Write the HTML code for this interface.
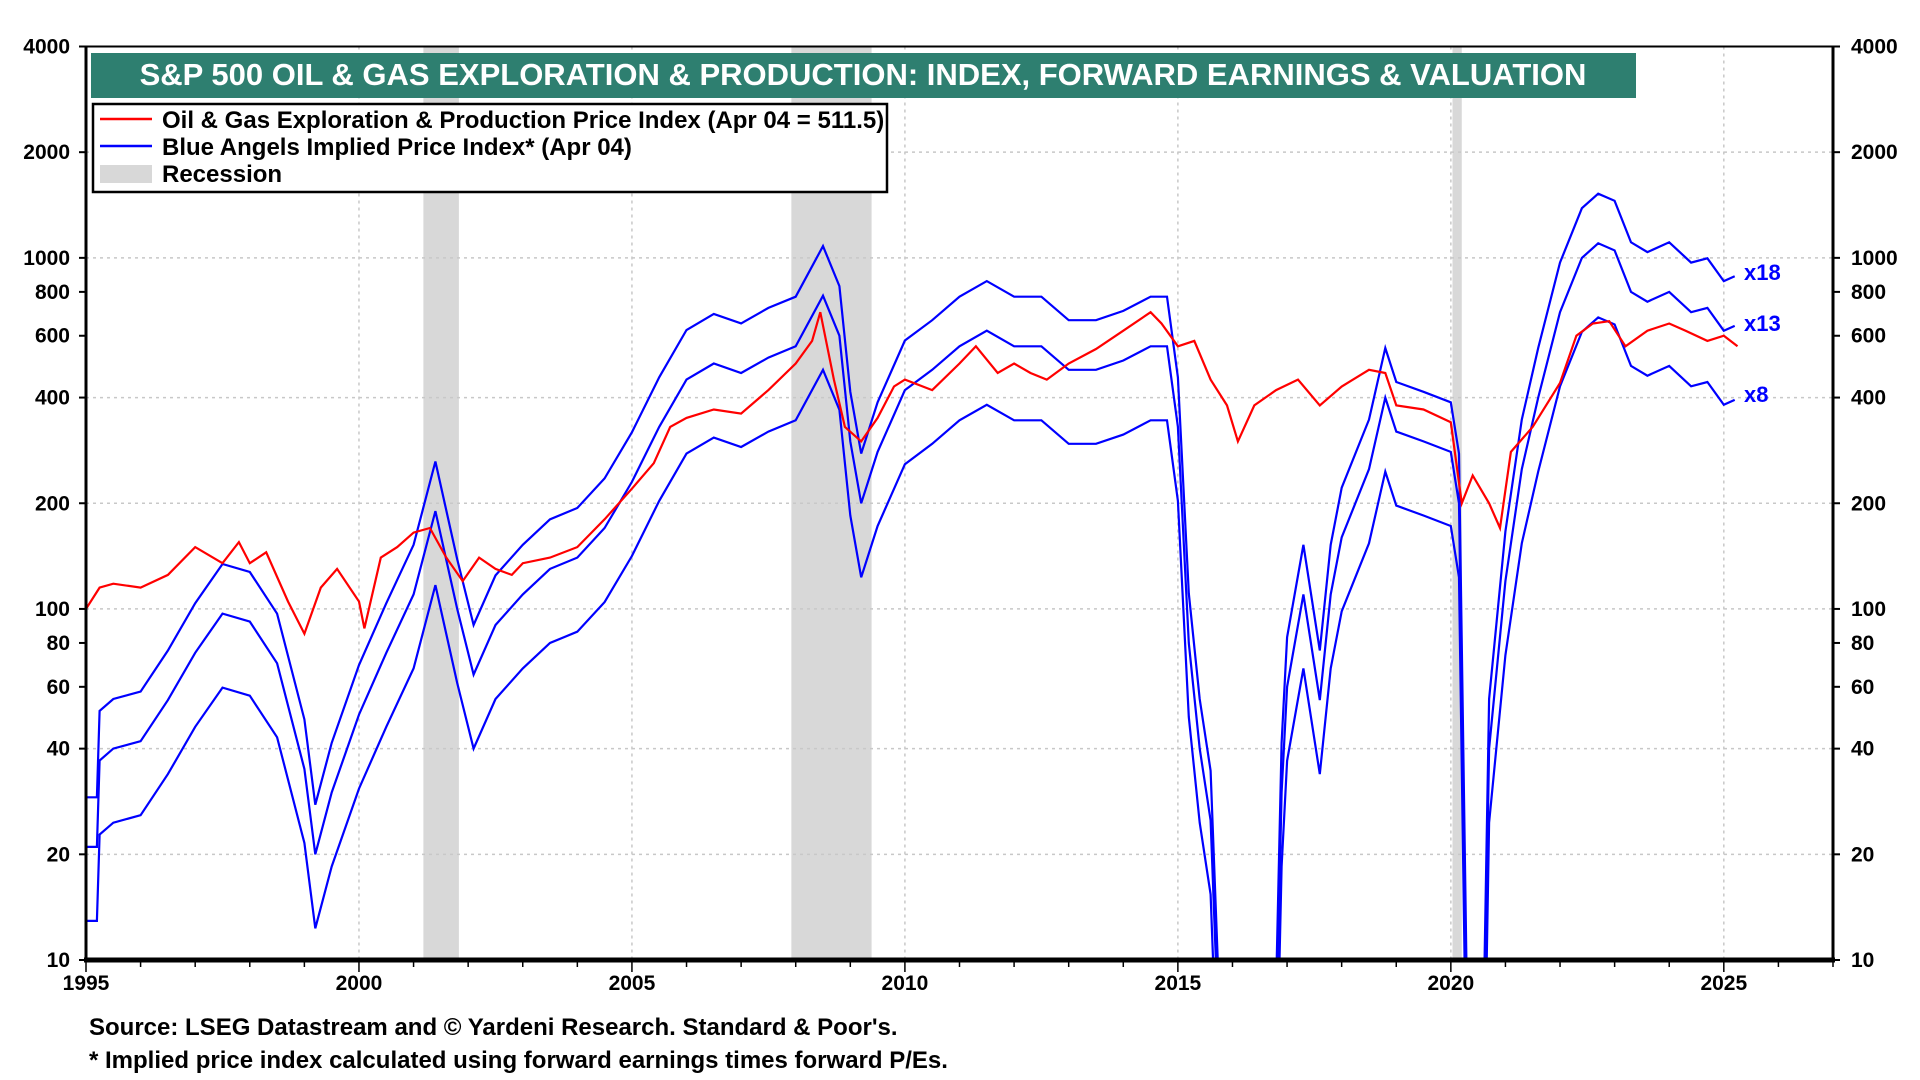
<!DOCTYPE html>
<html><head><meta charset="utf-8">
<style>
html,body{margin:0;background:#fff;width:1920px;height:1080px;overflow:hidden;}
svg{display:block;font-family:"Liberation Sans",Arial,sans-serif;font-weight:bold;}
</style></head>
<body>
<svg id="chart" width="1920" height="1080" viewBox="0 0 1920 1080" xmlns="http://www.w3.org/2000/svg">
<g id="rec"></g>
<g id="grid"></g>
<g id="series"></g>
<g id="axes"></g>
<rect x="91" y="53" width="1545" height="45" fill="#2e7f70"/>
<text x="863" y="85" fill="#fff" font-size="31" text-anchor="middle">S&amp;P 500 OIL &amp; GAS EXPLORATION &amp; PRODUCTION: INDEX, FORWARD EARNINGS &amp; VALUATION</text>
<g>
<rect x="93" y="104" width="794" height="88" fill="#fff" stroke="#000" stroke-width="2.5"/>
<line x1="100" y1="119" x2="152" y2="119" stroke="#f00" stroke-width="2.5"/>
<text x="162" y="128" font-size="24">Oil &amp; Gas Exploration &amp; Production Price Index (Apr 04 = 511.5)</text>
<line x1="100" y1="146" x2="152" y2="146" stroke="#00f" stroke-width="2.5"/>
<text x="162" y="155" font-size="24">Blue Angels Implied Price Index* (Apr 04)</text>
<rect x="100" y="165" width="52" height="18" fill="#d8d8d8"/>
<text x="162" y="182" font-size="24">Recession</text>
</g>
<text x="1744" y="280" fill="#00f" font-size="22">x18</text>
<text x="1744" y="331" fill="#00f" font-size="22">x13</text>
<text x="1744" y="402" fill="#00f" font-size="22">x8</text>
<text x="89" y="1035" font-size="24">Source: LSEG Datastream and © Yardeni Research. Standard &amp; Poor's.</text>
<text x="89" y="1068" font-size="24">* Implied price index calculated using forward earnings times forward P/Es.</text>
</svg>
<script>
const yTicks=[10,20,40,60,80,100,200,400,600,800,1000,2000,4000];
const xTicks=[1995,2000,2005,2010,2015,2020,2025];
const recessions=[[2001.18,2001.83],[2007.92,2009.39],[2020.03,2020.2]];
const multiples=[8,13,18];
const bDates=[1995.0,1995.2,1995.25,1995.5,1996.0,1996.5,1997.0,1997.5,1998.0,1998.5,1999.0,1999.2,1999.5,2000.0,2000.5,2001.0,2001.4,2001.8,2002.1,2002.5,2003.0,2003.5,2004.0,2004.5,2005.0,2005.5,2006.0,2006.5,2007.0,2007.5,2008.0,2008.5,2008.8,2009.0,2009.2,2009.5,2010.0,2010.5,2011.0,2011.5,2012.0,2012.5,2013.0,2013.5,2014.0,2014.5,2014.8,2015.0,2015.2,2015.4,2015.6,2015.75,2016.8,2016.9,2017.0,2017.3,2017.6,2017.8,2018.0,2018.5,2018.8,2019.0,2019.5,2020.0,2020.15,2020.3,2020.6,2020.7,2021.0,2021.3,2021.6,2022.0,2022.4,2022.7,2023.0,2023.3,2023.6,2024.0,2024.4,2024.7,2025.0,2025.2];
const implied13=[21,21,37,40,42,55,75,97,92,70,35,20,30,50,75,110,190,100,65,90,110,130,140,170,230,330,450,500,470,520,560,780,600,300,200,280,420,480,560,620,560,560,480,480,510,560,560,330,80,40,25,6,6,30,60,110,55,110,160,250,400,320,300,280,200,5,5,40,120,250,400,700,1000,1100,1050,800,750,800,700,720,620,640];
const rDates=[1995.0,1995.25,1995.5,1996,1996.5,1997,1997.5,1997.8,1998,1998.3,1998.7,1999,1999.3,1999.6,2000,2000.1,2000.4,2000.7,2001,2001.3,2001.6,2001.9,2002.2,2002.5,2002.8,2003,2003.5,2004,2004.5,2005,2005.4,2005.7,2006,2006.5,2007,2007.5,2008,2008.3,2008.45,2008.7,2008.9,2009.2,2009.5,2009.8,2010,2010.5,2011,2011.3,2011.7,2012,2012.3,2012.6,2013,2013.5,2014,2014.5,2014.7,2015,2015.3,2015.6,2015.9,2016.1,2016.4,2016.8,2017.2,2017.6,2018,2018.5,2018.8,2019,2019.5,2020,2020.2,2020.4,2020.7,2020.9,2021.1,2021.5,2022,2022.3,2022.6,2022.9,2023.2,2023.6,2024,2024.3,2024.7,2025,2025.25];
const priceIndex=[100,115,118,115,125,150,135,155,135,145,105,85,115,130,105,88,140,150,165,170,140,120,140,130,125,135,140,150,180,220,260,330,350,370,360,420,500,580,700,450,330,300,350,430,450,420,500,560,470,500,470,450,500,550,620,700,650,560,580,450,380,300,380,420,450,380,430,480,470,380,370,340,200,240,200,170,280,330,440,600,650,660,560,620,650,620,580,600,560];

const L=86,R=1833,T=46.5,B=960,X0=1995,X1=2027;
const xs=v=>L+(v-X0)/(X1-X0)*(R-L);
const ys=v=>B-(Math.log10(v)-1)/Math.log10(400)*(B-T);
const NS='http://www.w3.org/2000/svg';
function mk(tag,attrs,parent){const e=document.createElementNS(NS,tag);for(const k in attrs)e.setAttribute(k,attrs[k]);parent.appendChild(e);return e;}
const rec=document.getElementById('rec'),grid=document.getElementById('grid'),ser=document.getElementById('series'),ax=document.getElementById('axes');
recessions.forEach(r=>{const e=mk('rect',{x:xs(r[0]),y:T,width:xs(r[1])-xs(r[0]),height:B-T,fill:'#d8d8d8'},rec);

});
xTicks.slice(1).forEach(t=>{const e=mk('line',{x1:xs(t),x2:xs(t),y1:T,y2:B,stroke:'#c8c8c8','stroke-width':1.5,'stroke-dasharray':'3,4'},grid);

});
[20,40,100,200,400,1000,2000].forEach(t=>{const e=mk('line',{x1:L,x2:R,y1:ys(t),y2:ys(t),stroke:'#c8c8c8','stroke-width':1.5,'stroke-dasharray':'3,4'},grid);

});
const cp=mk('clipPath',{id:'cp'},document.getElementById('chart'));mk('rect',{x:L,y:T,width:R-L,height:B-T},cp);
ser.setAttribute('clip-path','url(#cp)');
multiples.forEach(m=>{const d=bDates.map((t,i)=>(i?'L':'M')+xs(t).toFixed(1)+','+ys(implied13[i]*m/13).toFixed(1)).join('');
const e=mk('path',{d:d,fill:'none',stroke:'#00f','stroke-width':2.2},ser);

});
{const d=rDates.map((t,i)=>(i?'L':'M')+xs(t).toFixed(1)+','+ys(priceIndex[i]).toFixed(1)).join('');
const e=mk('path',{d:d,fill:'none',stroke:'#f00','stroke-width':2.2},ser);

}
mk('line',{x1:L,x2:L,y1:T,y2:B,stroke:'#000','stroke-width':3},ax);
mk('line',{x1:R,x2:R,y1:T,y2:B,stroke:'#000','stroke-width':3},ax);
mk('line',{x1:L,x2:R,y1:T,y2:T,stroke:'#000','stroke-width':2},ax);
mk('line',{x1:L-2,x2:R+2,y1:B,y2:B,stroke:'#000','stroke-width':5},ax);
yTicks.forEach(t=>{const y=ys(t);
mk('line',{x1:L-7,x2:L,y1:y,y2:y,stroke:'#000','stroke-width':2},ax);
mk('line',{x1:R,x2:R+7,y1:y,y2:y,stroke:'#000','stroke-width':2},ax);
const a=mk('text',{x:L-16,y:y+7,'font-size':21,'text-anchor':'end'},ax);a.textContent=t;


const b=mk('text',{x:R+18,y:y+7,'font-size':21},ax);b.textContent=t;

});
for(let yr=X0;yr<=X1;yr++){mk('line',{x1:xs(yr),x2:xs(yr),y1:B,y2:B+(yr%5?7:12),stroke:'#000','stroke-width':1.5},ax);}
xTicks.forEach(t=>{const e=mk('text',{x:xs(t),y:B+30,'font-size':21,'text-anchor':'middle'},ax);e.textContent=t;

});
</script>
</body></html>
